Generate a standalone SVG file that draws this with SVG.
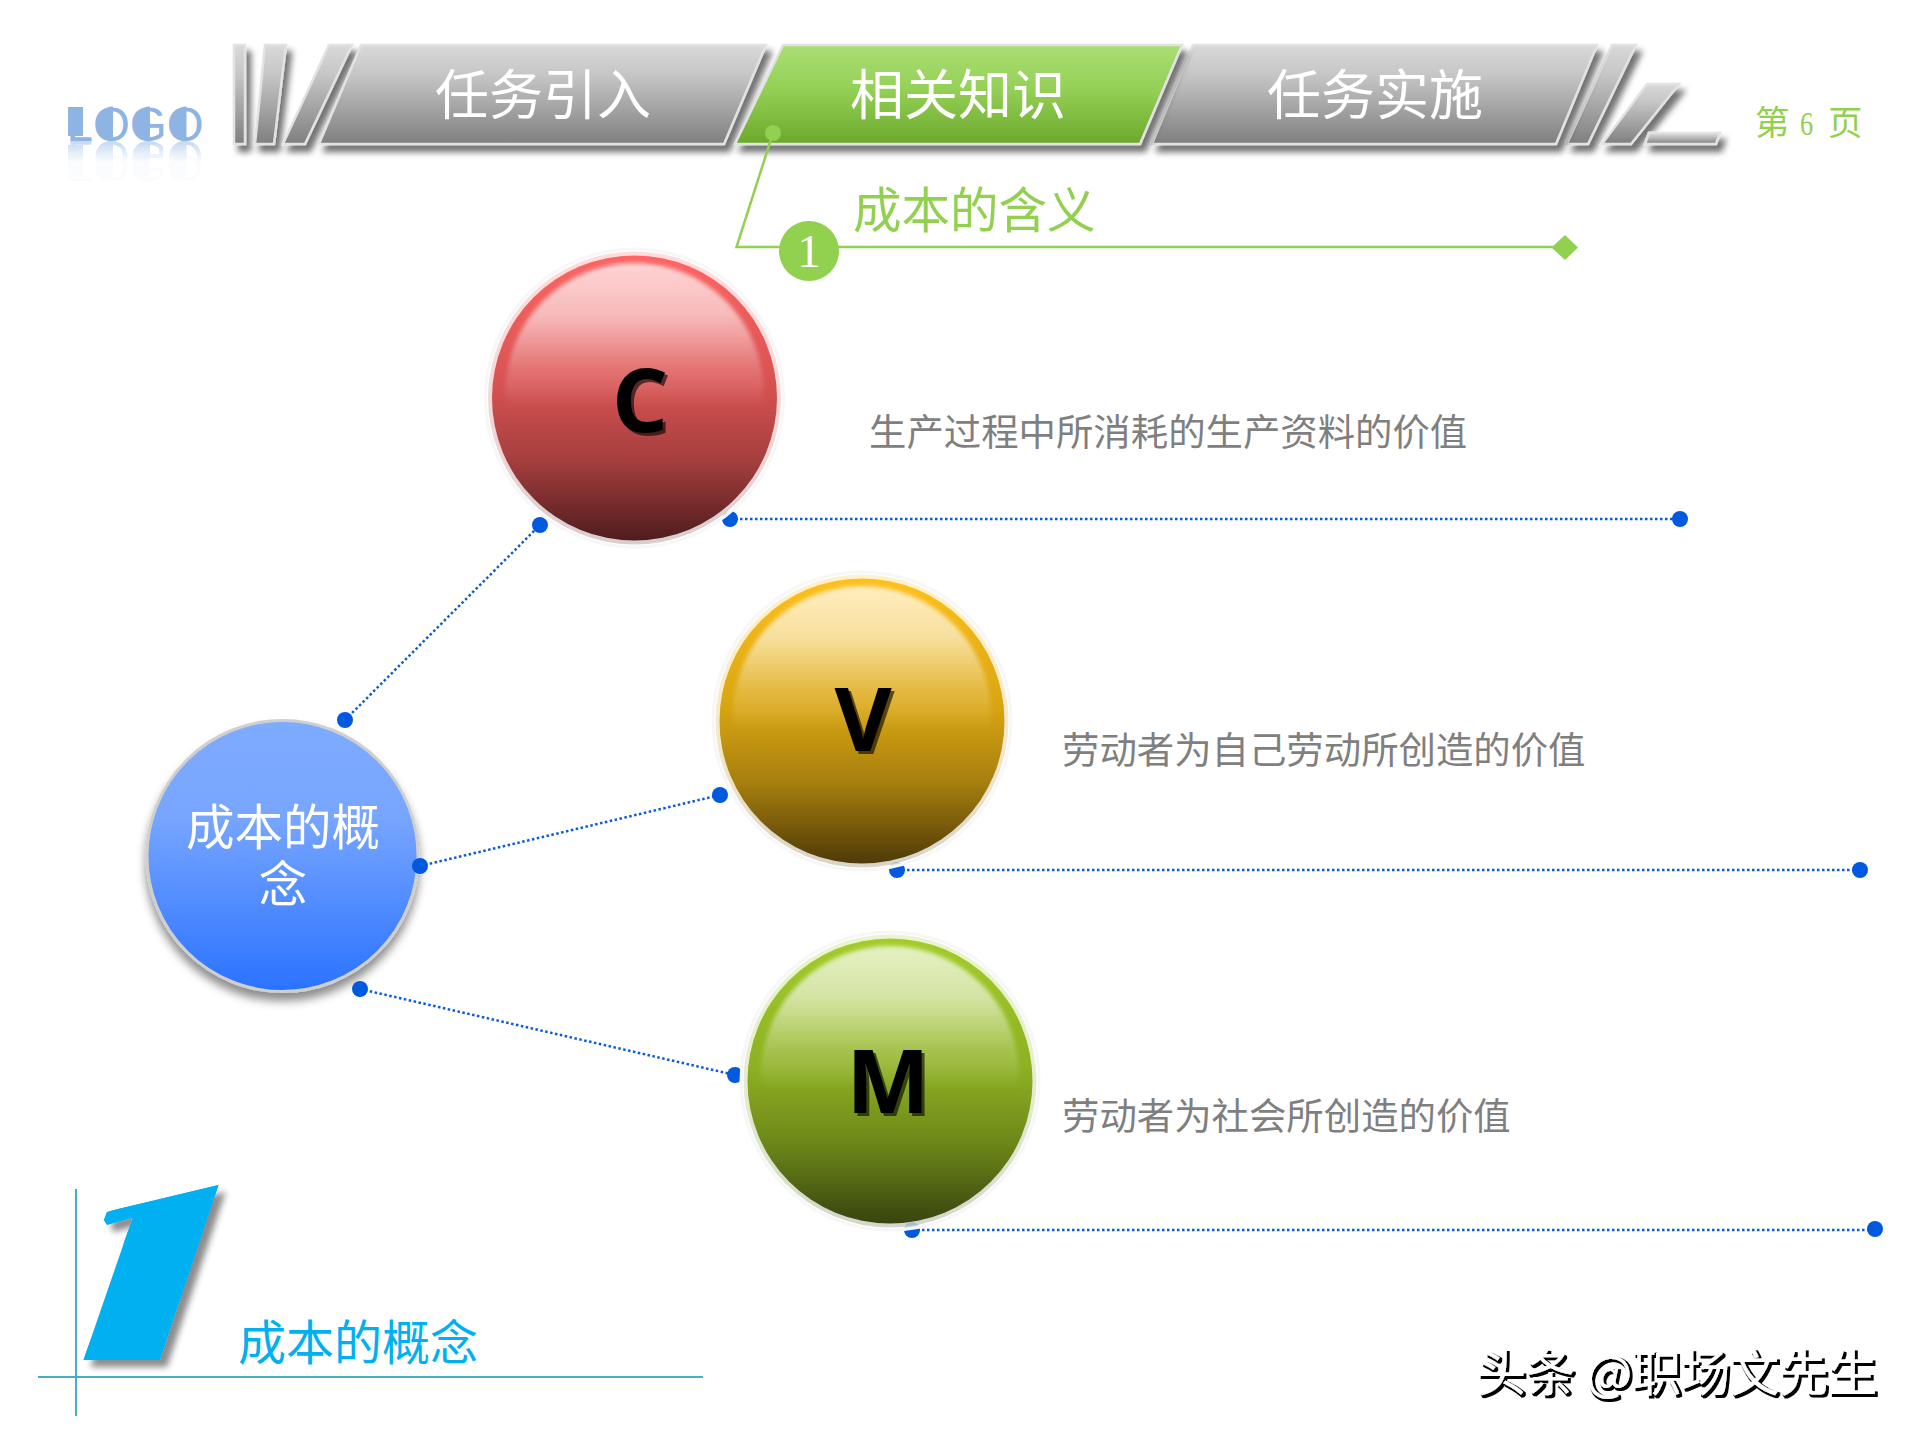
<svg xmlns="http://www.w3.org/2000/svg" xmlns:xlink="http://www.w3.org/1999/xlink" width="1920" height="1440" viewBox="0 0 1920 1440">
<style>
text{font-family:"Noto Sans CJK SC","Noto Sans",sans-serif}
.tab{stroke:#e2e2e2;stroke-width:2.5;stroke-linejoin:miter}
.tabt{fill:#fff;font-size:54px;text-anchor:middle}
.gr{fill:url(#gGrey)}
.desc{fill:#7f7f7f;font-size:37.4px}
.dot{fill:#0059de}
.dl{fill:none;stroke:#0a5bdc;stroke-width:2.5;stroke-dasharray:2.5 2.5}
.let{font-family:"Open Sans","Liberation Sans",sans-serif;font-weight:700;font-size:88px;text-anchor:middle;fill:#000;filter:url(#fLet)}
.halo{fill:#fff;fill-opacity:.8;stroke:#f7f7f7;stroke-width:3}
.gloss{fill:url(#gGloss);filter:url(#fSoft)}
.green{fill:#92d050}
.gl{fill:none;stroke:#92d050;stroke-width:2.5}
.cy{stroke:#4bacc6;stroke-width:2;fill:none}
</style>
<defs>
<linearGradient id="gGrey" x1="0" y1="0" x2="0" y2="1"><stop offset="0" stop-color="#d9d9d9"/><stop offset=".3" stop-color="#c6c6c6"/><stop offset="1" stop-color="#7f7f7f"/></linearGradient>
<linearGradient id="gGreen" x1="0" y1="0" x2="0" y2="1"><stop offset="0" stop-color="#aade74"/><stop offset=".45" stop-color="#94d056"/><stop offset="1" stop-color="#6ca82a"/></linearGradient>
<linearGradient id="gBlue" x1="0" y1="0" x2="0" y2="1"><stop offset="0" stop-color="#7dabff"/><stop offset=".35" stop-color="#78a6ff"/><stop offset="1" stop-color="#2a72ff"/></linearGradient>
<linearGradient id="gRed" x1="0" y1="0" x2="0" y2="1"><stop offset="0" stop-color="#ff6464"/><stop offset=".45" stop-color="#d85252"/><stop offset=".72" stop-color="#a53e3e"/><stop offset="1" stop-color="#4f1c1e"/></linearGradient>
<linearGradient id="gGold" x1="0" y1="0" x2="0" y2="1"><stop offset="0" stop-color="#ffc01a"/><stop offset=".45" stop-color="#d8a512"/><stop offset=".72" stop-color="#a57e0e"/><stop offset="1" stop-color="#4f3a08"/></linearGradient>
<linearGradient id="gOlive" x1="0" y1="0" x2="0" y2="1"><stop offset="0" stop-color="#a2cd28"/><stop offset=".45" stop-color="#8eb022"/><stop offset=".72" stop-color="#6c8719"/><stop offset="1" stop-color="#38440f"/></linearGradient>
<linearGradient id="gGloss" x1="0" y1="0" x2="0" y2="1"><stop offset="0" stop-color="#fff" stop-opacity=".72"/><stop offset=".2" stop-color="#fff" stop-opacity=".58"/><stop offset=".4" stop-color="#fff" stop-opacity=".2"/><stop offset=".56" stop-color="#fff" stop-opacity="0"/></linearGradient>
<linearGradient id="gRefl" gradientUnits="userSpaceOnUse" x1="0" y1="140" x2="0" y2="162"><stop offset="0" stop-color="#fff" stop-opacity=".55"/><stop offset="1" stop-color="#fff" stop-opacity="0"/></linearGradient>
<mask id="mRefl" maskUnits="userSpaceOnUse" x="60" y="138" width="150" height="30"><rect x="60" y="138" width="150" height="30" fill="url(#gRefl)"/></mask>
<clipPath id="cOne"><polygon points="218.500,1185 160,1360 83.500,1360 132.500,1218 107,1225 104,1220 107,1212 114,1210"/></clipPath>
<filter id="fSoft" x="-5%" y="-5%" width="110%" height="110%"><feGaussianBlur stdDeviation="2"/></filter>
<filter id="fTab" x="-10%" y="-20%" width="125%" height="150%"><feDropShadow dx="5" dy="7" stdDeviation="3" flood-color="#000" flood-opacity=".55"/></filter>
<filter id="fBlue" x="-15%" y="-15%" width="130%" height="135%"><feDropShadow dx="0" dy="8" stdDeviation="5" flood-color="#000" flood-opacity=".45"/></filter>
<filter id="fLet" x="-20%" y="-20%" width="140%" height="140%"><feDropShadow dx="3" dy="3" stdDeviation=".4" flood-color="#000" flood-opacity=".6"/></filter>
<filter id="fOne" x="-20%" y="-10%" width="150%" height="125%"><feDropShadow dx="7" dy="7" stdDeviation="3" flood-color="#000" flood-opacity=".45"/></filter>
<filter id="fMark" x="-5%" y="-20%" width="110%" height="140%"><feMorphology in="SourceAlpha" operator="dilate" radius=".7" result="d"/><feOffset in="d" dx="2" dy="2.2" result="o"/><feFlood flood-color="#000"/><feComposite in2="o" operator="in" result="s"/><feMerge><feMergeNode in="s"/><feMergeNode in="SourceGraphic"/></feMerge></filter>
<g id="logoMark">
<rect x="68" y="107" width="15" height="29" fill="#8db4e2"/>
<path d="M113 106.500A16.500 17 0 0 0 113 140.500Z M150 106.500A16.500 17 0 0 0 150 140.500Z M186.500 106.500A16.500 17 0 0 0 186.500 140.500Z" fill="#8db4e2"/>
<text x="66.500" y="140.500" font-size="47.500" style="font-family:'Liberation Sans',sans-serif" fill="#8db4e2">LOGO</text>
</g>
</defs>
<rect width="1920" height="1440" fill="#fff"/>

<g id="logo">
<use href="#logoMark"/>
<g mask="url(#mRefl)"><use href="#logoMark" transform="matrix(1 0 0 -1 0 281)"/></g>
<use href="#logoMark" transform="translate(0 66) scale(1 .78) translate(0 7)" opacity=".03"/>
</g>

<g id="tabs">
<g filter="url(#fTab)">
<polygon class="tab gr" points="234,45 245,45 245,144 234,144"/>
<polygon class="tab gr" points="265,45 286,45 274,144 255,144"/>
<polygon class="tab gr" points="329,45 352,45 305,144 283,144"/>
<polygon class="tab gr" points="1612,45 1636,45 1588,144 1567,144"/>
<polygon class="tab gr" points="1647,84 1679,84 1631,144 1602,144"/>
<polygon class="tab gr" points="1649,133 1720,133 1716,144 1645,144"/>
</g>
<g id="tab1" filter="url(#fTab)"><polygon class="tab gr" points="361,45 766,45 724,144 319,144"/><text class="tabt" x="543" y="114.500">任务引入</text></g>
<g id="tab3" filter="url(#fTab)"><polygon class="tab gr" points="1193,45 1597,45 1556,144 1152,144"/><text class="tabt" x="1375" y="114.500">任务实施</text></g>
<g id="tab2" filter="url(#fTab)"><polygon points="783,45 1182,45 1140,144 735,144" fill="url(#gGreen)" stroke="#e2e2e2" stroke-width="2.5"/><text class="tabt" x="958" y="114.500">相关知识</text></g>
</g>

<g id="page"><text x="1755" y="135" font-size="34.500" fill="#92d050">第</text><text transform="translate(1800 135) scale(.8 1)" font-size="33" fill="#92d050" style="font-family:'Liberation Serif',serif">6</text><text x="1828" y="135" font-size="34.500" fill="#92d050">页</text></g>

<g id="section-head">
<path class="gl" d="M773 133L736.500 247H1565"/>
<circle class="green" cx="773" cy="133" r="8"/>
<polygon class="green" points="1551.500,247.500 1565,235 1578,247.500 1565,260"/>
<circle class="green" cx="809" cy="251" r="30"/>
<text x="809" y="267" font-size="47" fill="#fff" text-anchor="middle" style="font-family:'Liberation Serif',serif">1</text>
<text x="853" y="228" font-size="48.500" fill="#92d050">成本的含义</text>
</g>

<g id="node-concept">
<circle cx="282.500" cy="856" r="135.500" fill="url(#gBlue)" stroke="#cfcfcf" stroke-width="3" filter="url(#fBlue)"/>
<text font-size="48.500" fill="#fff" text-anchor="middle"><tspan x="283" y="845">成本的概</tspan><tspan x="283" y="902">念</tspan></text>
</g>

<g id="connectors">
<path class="dl" d="M345 720L540 525"/>
<path class="dl" d="M420 866L720 795"/>
<path class="dl" d="M360 989L735 1075"/>
<path class="dl" d="M730 519H1680"/>
<path class="dl" d="M897 870H1860"/>
<path class="dl" d="M912 1230H1875"/>
<circle class="dot" cx="345" cy="720" r="8"/><circle class="dot" cx="540" cy="525" r="8"/>
<circle class="dot" cx="420" cy="866" r="8"/><circle class="dot" cx="720" cy="795" r="8"/>
<circle class="dot" cx="360" cy="989" r="8"/><circle class="dot" cx="735" cy="1075" r="8"/>
<circle class="dot" cx="730" cy="519" r="8"/><circle class="dot" cx="1680" cy="519" r="8"/>
<circle class="dot" cx="897" cy="870" r="8"/><circle class="dot" cx="1860" cy="870" r="8"/>
<circle class="dot" cx="912" cy="1230" r="8"/><circle class="dot" cx="1875" cy="1229" r="8"/>
</g>

<g id="node-c">
<circle class="halo" cx="634.500" cy="398" r="149"/>
<circle cx="634.500" cy="398" r="146.500" fill="url(#gRed)" opacity=".22"/>
<circle cx="634.500" cy="398" r="142.500" fill="url(#gRed)"/>
<ellipse class="gloss" cx="634.500" cy="392" rx="129" ry="129"/>
<text class="let" x="640" y="432">C</text>
</g>
<g id="node-v">
<circle class="halo" cx="862" cy="721" r="149"/>
<circle cx="862" cy="721" r="146.500" fill="url(#gGold)" opacity=".22"/>
<circle cx="862" cy="721" r="142.500" fill="url(#gGold)"/>
<ellipse class="gloss" cx="862" cy="715" rx="129" ry="129"/>
<text class="let" x="863" y="751">V</text>
</g>
<g id="node-m">
<circle class="halo" cx="890" cy="1081" r="149"/>
<circle cx="890" cy="1081" r="146.500" fill="url(#gOlive)" opacity=".22"/>
<circle cx="890" cy="1081" r="142.500" fill="url(#gOlive)"/>
<ellipse class="gloss" cx="890" cy="1075" rx="129" ry="129"/>
<text class="let" x="888" y="1113">M</text>
</g>

<g id="descriptions">
<text class="desc" x="869" y="446">生产过程中所消耗的生产资料的价值</text>
<text class="desc" x="1062" y="764">劳动者为自己劳动所创造的价值</text>
<text class="desc" x="1062" y="1130">劳动者为社会所创造的价值</text>
</g>

<g id="section-foot">
<path class="cy" d="M76 1189V1416M38 1377H703"/>
<g filter="url(#fOne)"><g clip-path="url(#cOne)"><text transform="translate(12 1360) skewX(-9) scale(1.5 1)" font-size="246" fill="#00b0f0" stroke="#00b0f0" stroke-width="20" style="font-family:'Open Sans',sans-serif;font-weight:800;font-style:italic">1</text></g></g>
<text x="238" y="1360" font-size="48" fill="#00b0f0">成本的概念</text>
</g>

<text id="watermark" x="1477" y="1391" font-size="49" fill="#fff" filter="url(#fMark)">头条 @职场文先生</text>
</svg>
